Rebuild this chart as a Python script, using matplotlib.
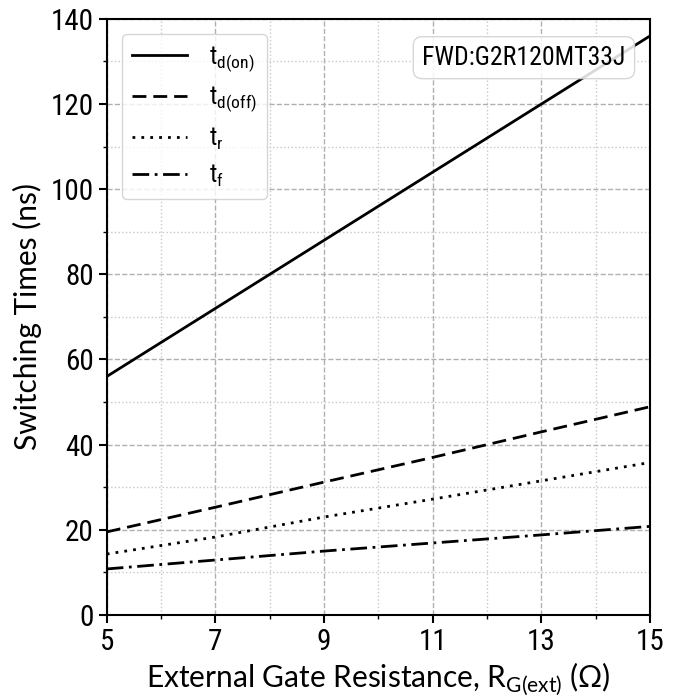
import matplotlib
matplotlib.use("Agg")
import matplotlib.pyplot as plt
from matplotlib import font_manager
from matplotlib.ticker import FixedLocator

# Switching times vs external gate resistance
rg = [5, 7, 9, 11, 13, 15]
td_on = [56.0, 72.0, 88.0, 104.0, 120.0, 136.0]
td_off = [19.5, 25.3, 31.2, 37.0, 43.0, 48.9]
t_r = [14.3, 18.3, 23.0, 27.2, 31.5, 35.8]
t_f = [10.8, 12.9, 15.0, 16.9, 18.8, 20.8]

x_major = [5, 7, 9, 11, 13, 15]
x_minor = [6, 8, 10, 12, 14]

labels = [r"$\mathregular{t_{d(on)}}$", r"$\mathregular{t_{d(off)}}$",
          r"$\mathregular{t_{r}}$", r"$\mathregular{t_{f}}$"]
styles = ["-", (0, (5, 2.5)), (0, (1, 2.2)), (0, (6, 2, 1, 2))]
series = [td_on, td_off, t_r, t_f]

available = {f.name for f in font_manager.fontManager.ttflist}
narrow = "Roboto"
for cand in ["Roboto Condensed", "Liberation Sans Narrow", "Open Sans Condensed"]:
    if cand in available:
        narrow = cand
        break

plt.rcParams["mathtext.fontset"] = "custom"
plt.rcParams["mathtext.rm"] = narrow

fig = plt.figure(figsize=(6.8, 6.98), dpi=100)
ax = fig.add_axes([0.157, 0.119, 0.799, 0.854])

for y, ls, lab in zip(series, styles, labels):
    ax.plot(rg, y, color="black", lw=2, linestyle=ls, label=lab)

ax.set_xlim(5, 15)
ax.set_ylim(0, 140)
ax.xaxis.set_major_locator(FixedLocator(x_major))
ax.xaxis.set_minor_locator(FixedLocator(x_minor))
ax.set_yticks(range(0, 141, 20))
ax.set_yticks(range(10, 140, 20), minor=True)
ax.grid(which="major", color="#b0b0b0", linestyle="--", linewidth=1)
ax.grid(which="minor", color="#c8c8c8", linestyle=":", linewidth=1)
ax.set_axisbelow(True)

for s in ax.spines.values():
    s.set_linewidth(1.5)
ax.tick_params(which="major", length=6, width=1.5, labelsize=21)
ax.tick_params(which="minor", length=3, width=1)
for t in ax.get_xticklabels() + ax.get_yticklabels():
    t.set_fontfamily(narrow)

ax.set_xlabel(r"External Gate Resistance, R$_{\mathregular{G(ext)}}$ (Ω)",
              fontfamily="Lato", fontsize=21.5, labelpad=3)
ax.set_ylabel("Switching Times (ns)", fontfamily="Lato", fontsize=21.5, labelpad=6)

leg = ax.legend(loc="upper left", prop={"family": narrow, "size": 18},
                handlelength=2.2, labelspacing=0.45, borderpad=0.4,
                handletextpad=0.9, fancybox=True, framealpha=0.8,
                borderaxespad=0.6)

ax.text(0.955, 0.955, "FWD:G2R120MT33J", transform=ax.transAxes,
        ha="right", va="top", fontsize=18.5, fontfamily=narrow,
        bbox=dict(boxstyle="round,pad=0.35", facecolor="white",
                  edgecolor="#d0d0d0", alpha=0.85))

fig.savefig("out.png", dpi=100)
